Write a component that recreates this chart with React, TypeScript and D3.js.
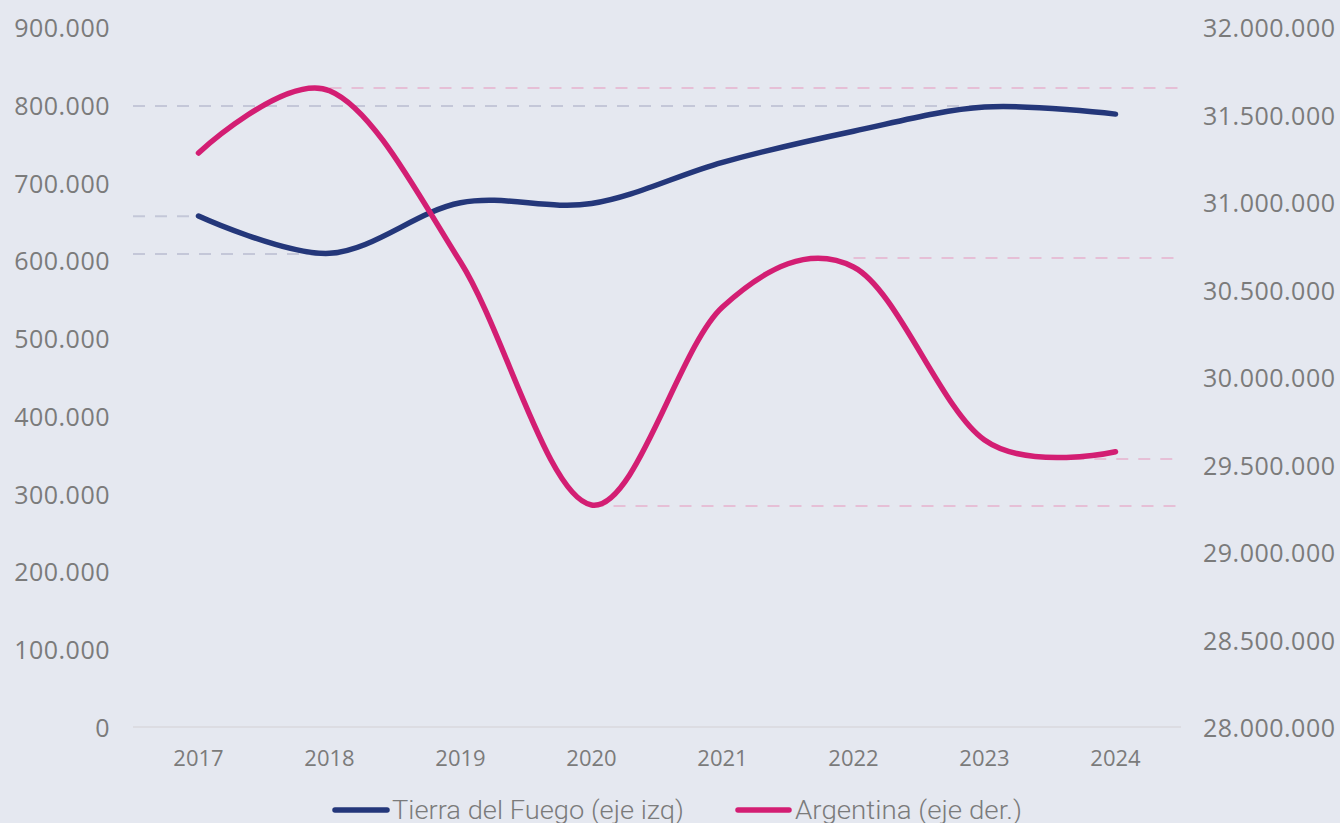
import React from "react";
import * as d3 from "d3";

const years = [2017, 2018, 2019, 2020, 2021, 2022, 2023, 2024];
const tierraDelFuego = [657000, 609000, 674000, 673000, 726000, 766000, 797000, 788000];
const argentina = [31280000, 31636000, 30657000, 29269000, 30400000, 30629000, 29640000, 29573000];

const leftTicks = [0, 100000, 200000, 300000, 400000, 500000, 600000, 700000, 800000, 900000];
const rightTicks = [28000000, 28500000, 29000000, 29500000, 30000000, 30500000, 31000000, 31500000, 32000000];

// reference dashed lines (value, from year, to year)
const tdfRefValues = [798400, 656600, 608100];
const tdfRefFrom = [2016.5, 2016.5, 2016.5];
const tdfRefTo = [2023, 2017, 2018];
const argRefValues = [31651000, 30680000, 29531000, 29263000];
const argRefFrom = [2018, 2022, 2023.67, 2020];
const argRefTo = [2024.5, 2024.5, 2024.5, 2024.5];

const legendLabels = ["Tierra del Fuego (eje izq)", "Argentina (eje der.)"];

const W = 1340;
const H = 823;
const BG = "#e5e8f0";
const BLUE = "#24377a";
const PINK = "#d31e73";
const TEXT = "#7b7b7b";

const fmt = (v: number) => {
  if (v === 0) return "0";
  return d3.format(",")(v).replace(/,/g, ".");
};

export default function App() {
  const xPoint = d3.scalePoint<number>().domain(years).range([133, 1181]).padding(0.5);
  const xLin = d3.scaleLinear().domain([2016.5, 2024.5]).range([133, 1181]);
  const yL = d3.scaleLinear().domain([0, 900000]).range([727, 27]);
  const yR = d3.scaleLinear().domain([28000000, 32000000]).range([727, 27]);

  const curve = d3.curveCardinal.tension(0);
  const lineL = d3
    .line<number>()
    .x((_, i) => xPoint(years[i]) as number)
    .y((d) => yL(d))
    .curve(curve);
  const lineR = d3
    .line<number>()
    .x((_, i) => xPoint(years[i]) as number)
    .y((d) => yR(d))
    .curve(curve);

  const font = "'Open Sans', sans-serif";

  return (
    <svg
      width={W}
      height={H}
      style={{ position: "absolute", left: 0, top: 0, display: "block" }}
    >
      <rect x={0} y={0} width={W} height={H} fill={BG} />

      {/* baseline */}
      <line x1={133} x2={1181} y1={yL(0)} y2={yL(0)} stroke="#d8d9de" strokeWidth={1.5} />

      {/* reference lines */}
      {tdfRefValues.map((v, i) => (
        <line
          key={"tr" + i}
          x1={xLin(tdfRefFrom[i])}
          x2={xLin(tdfRefTo[i])}
          y1={yL(v)}
          y2={yL(v)}
          stroke="#c4c7d8"
          strokeWidth={2}
          strokeDasharray="12 10"
        />
      ))}
      {argRefValues.map((v, i) => (
        <line
          key={"ar" + i}
          x1={xLin(argRefFrom[i])}
          x2={xLin(argRefTo[i])}
          y1={yR(v)}
          y2={yR(v)}
          stroke="#e6bfd6"
          strokeWidth={2}
          strokeDasharray="12 10"
        />
      ))}

      {/* series */}
      <path d={lineL(tierraDelFuego) || ""} fill="none" stroke={BLUE} strokeWidth={5.5} strokeLinecap="round" />
      <path d={lineR(argentina) || ""} fill="none" stroke={PINK} strokeWidth={5.5} strokeLinecap="round" />

      {/* left axis */}
      {leftTicks.map((t) => (
        <text
          key={"l" + t}
          x={110}
          y={yL(t)}
          textAnchor="end"
          dominantBaseline="central"
          fontFamily={font}
          fontSize={25}
          letterSpacing={0.5}
          fill={TEXT}
        >
          {fmt(t)}
        </text>
      ))}
      {/* right axis */}
      {rightTicks.map((t) => (
        <text
          key={"r" + t}
          x={1203}
          y={yR(t)}
          textAnchor="start"
          dominantBaseline="central"
          fontFamily={font}
          fontSize={25}
          letterSpacing={0.5}
          fill={TEXT}
        >
          {fmt(t)}
        </text>
      ))}
      {/* x axis */}
      {years.map((y) => (
        <text
          key={"x" + y}
          x={xPoint(y) as number}
          y={757}
          textAnchor="middle"
          dominantBaseline="central"
          fontFamily={font}
          fontSize={22}
          fill={TEXT}
        >
          {y}
        </text>
      ))}

      {/* legend */}
      <line x1={335} x2={387} y1={810} y2={810} stroke={BLUE} strokeWidth={5.5} strokeLinecap="round" />
      <text
        x={392}
        y={810}
        dominantBaseline="central"
        fontFamily="Roboto, sans-serif"
        fontWeight={300}
        fontSize={26}
        textLength={292}
        lengthAdjust="spacingAndGlyphs"
        fill={TEXT}
      >
        {legendLabels[0]}
      </text>
      <line x1={738} x2={789} y1={810} y2={810} stroke={PINK} strokeWidth={5.5} strokeLinecap="round" />
      <text
        x={795}
        y={810}
        dominantBaseline="central"
        fontFamily="Roboto, sans-serif"
        fontWeight={300}
        fontSize={26}
        textLength={227}
        lengthAdjust="spacingAndGlyphs"
        fill={TEXT}
      >
        {legendLabels[1]}
      </text>
    </svg>
  );
}
